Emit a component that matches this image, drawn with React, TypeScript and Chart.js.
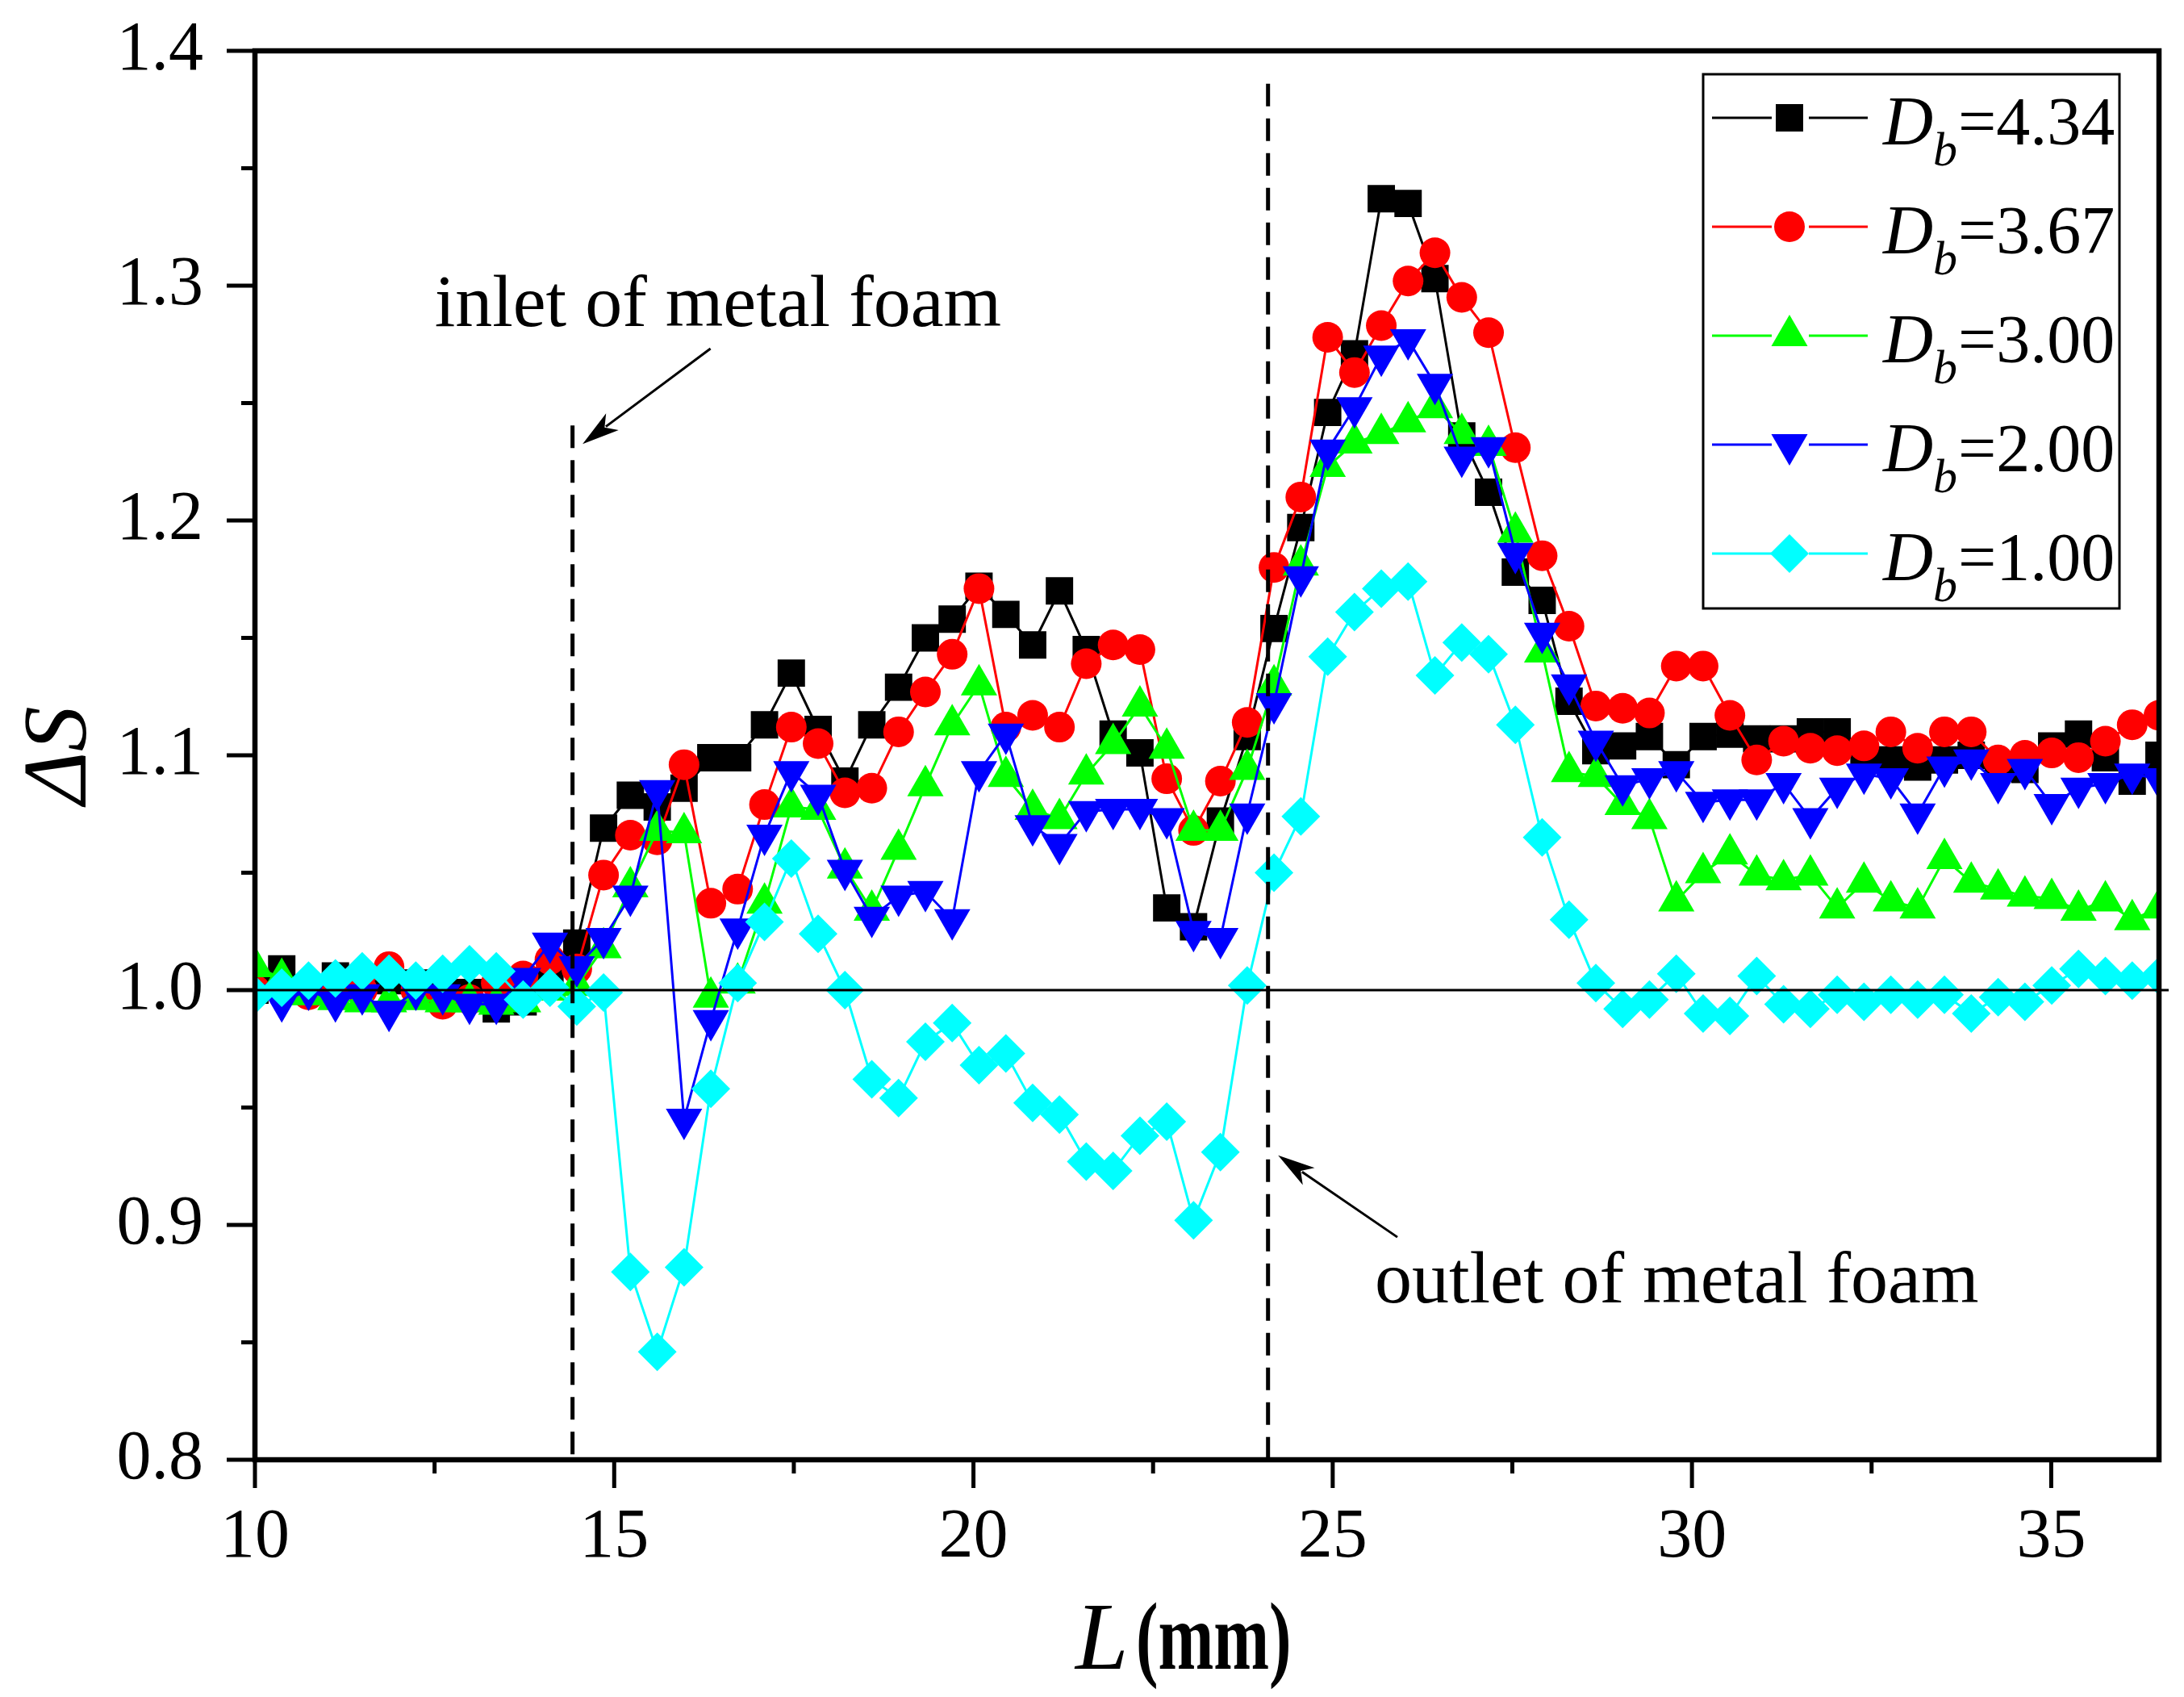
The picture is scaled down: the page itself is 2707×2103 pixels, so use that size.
import React, { useEffect, useRef } from 'react';
import { Chart, registerables } from 'chart.js';

Chart.register(...registerables);

// L (mm) sample positions
const lengths = [
  10.0, 10.373, 10.746, 11.12, 11.493, 11.866, 12.239, 12.613, 12.986, 13.359,
  13.732, 14.106, 14.479, 14.852, 15.225, 15.599, 15.972, 16.345, 16.718, 17.092,
  17.465, 17.838, 18.211, 18.585, 18.958, 19.331, 19.704, 20.077, 20.451, 20.824,
  21.197, 21.57, 21.944, 22.317, 22.69, 23.063, 23.437, 23.81, 24.183, 24.556,
  24.93, 25.303, 25.676, 26.049, 26.423, 26.796, 27.169, 27.542, 27.915, 28.289,
  28.662, 29.035, 29.408, 29.782, 30.155, 30.528, 30.901, 31.275, 31.648, 32.021,
  32.394, 32.768, 33.141, 33.514, 33.887, 34.261, 34.634, 35.007, 35.38, 35.754,
  36.127, 36.5,
];

// ΔS for each D_b
const db434 = [
  1.0, 1.009, 1.0, 1.006, 1.003, 1.004, 1.003, 1.001, 0.999, 0.992,
  0.995, 1.005, 1.02, 1.069, 1.083, 1.078, 1.086, 1.099, 1.099, 1.113,
  1.135, 1.111, 1.089, 1.113, 1.129, 1.15, 1.158, 1.172, 1.16, 1.147,
  1.17, 1.145, 1.109, 1.101, 1.035, 1.027, 1.072, 1.108, 1.154, 1.197,
  1.246, 1.271, 1.337, 1.335, 1.303, 1.236, 1.212, 1.178, 1.166, 1.123,
  1.102, 1.104, 1.108, 1.096, 1.108, 1.109, 1.107, 1.107, 1.11, 1.11,
  1.101, 1.098, 1.095, 1.098, 1.1, 1.096, 1.094, 1.104, 1.109, 1.099,
  1.089, 1.1,
];
const db367 = [
  1.0, 1.0, 0.998, 0.999, 1.0, 1.01, 1.0, 0.994, 0.996, 1.003,
  1.006, 1.013, 1.009, 1.049, 1.066, 1.064, 1.096, 1.037, 1.043, 1.079,
  1.112, 1.105, 1.084, 1.086, 1.11, 1.127, 1.143, 1.171, 1.112, 1.117,
  1.112, 1.139, 1.147, 1.145, 1.09, 1.068, 1.089, 1.114, 1.18, 1.21,
  1.278, 1.263, 1.283, 1.302, 1.314, 1.295, 1.28, 1.231, 1.185, 1.155,
  1.121, 1.12, 1.118, 1.138, 1.138, 1.117, 1.098, 1.106, 1.103, 1.102,
  1.104, 1.11, 1.103, 1.11, 1.11, 1.098, 1.1, 1.101, 1.099, 1.106,
  1.113, 1.117,
];
const db300 = [
  1.01, 1.005, 0.998, 0.996, 0.995, 0.995, 0.996, 0.995, 0.995, 0.994,
  0.995, 1.0, 1.002, 1.018, 1.044, 1.068, 1.067, 0.997, 1.003, 1.037,
  1.078, 1.077, 1.052, 1.034, 1.06, 1.087, 1.113, 1.13, 1.091, 1.077,
  1.073, 1.092, 1.105, 1.121, 1.103, 1.068, 1.068, 1.094, 1.13, 1.181,
  1.223, 1.233, 1.237, 1.242, 1.248, 1.237, 1.232, 1.195, 1.144, 1.093,
  1.091, 1.079, 1.073, 1.038, 1.05, 1.058, 1.049, 1.047, 1.049, 1.035,
  1.046, 1.038, 1.035, 1.056, 1.046, 1.043, 1.04, 1.039, 1.034, 1.038,
  1.03, 1.035,
];
const db200 = [
  0.998, 0.995, 1.0, 0.995, 0.998, 0.991, 1.0, 0.998, 0.994, 0.994,
  1.005, 1.02, 1.01, 1.022, 1.04, 1.085, 0.945, 0.987, 1.026, 1.066,
  1.093, 1.083, 1.051, 1.031, 1.04, 1.042, 1.03, 1.093, 1.109, 1.07,
  1.062, 1.076, 1.077, 1.077, 1.073, 1.025, 1.022, 1.075, 1.122, 1.176,
  1.23, 1.248, 1.27, 1.277, 1.258, 1.227, 1.231, 1.186, 1.152, 1.13,
  1.106, 1.087, 1.09, 1.093, 1.08, 1.081, 1.081, 1.088, 1.073, 1.086,
  1.092, 1.09, 1.075, 1.095, 1.098, 1.088, 1.094, 1.079, 1.086, 1.088,
  1.092, 1.09,
];
const db100 = [
  0.998, 1.001, 1.004, 1.005, 1.008, 1.007, 1.004, 1.007, 1.011, 1.008,
  0.996, 1.001, 0.993, 0.999, 0.88, 0.846, 0.882, 0.958, 1.003, 1.029,
  1.056, 1.024, 1.0, 0.962, 0.954, 0.978, 0.986, 0.968, 0.973, 0.952,
  0.947, 0.927, 0.923, 0.938, 0.944, 0.902, 0.931, 1.002, 1.05, 1.074,
  1.142, 1.161, 1.171, 1.174, 1.134, 1.148, 1.143, 1.113, 1.065, 1.03,
  1.003, 0.992, 0.996, 1.007, 0.99, 0.989, 1.006, 0.994, 0.992, 0.998,
  0.995, 0.998, 0.996, 0.998, 0.99, 0.997, 0.995, 1.002, 1.009, 1.006,
  1.004, 1.006,
];

const seriesValues = ['4.34', '3.67', '3.00', '2.00', '1.00'];

const xMinor = [12.5, 17.5, 22.5, 27.5, 32.5];
const yMinor = [0.85, 0.95, 1.05, 1.15, 1.25, 1.35];

// dashed marker lines: [L, top of line]
const inletLine = [14.42, 1.2405];
const outletLine = [24.1, 1.386];

const SERIF = '"Liberation Serif", "Times New Roman", serif';

const looks = [
  { color: '#000000', shape: 'rect', r: 24, rot: 0 },
  { color: '#ff0000', shape: 'circle', r: 19, rot: 0 },
  { color: '#00ff00', shape: 'triangle', r: 26, rot: 0 },
  { color: '#0000ff', shape: 'triangle', r: 26, rot: 180 },
  { color: '#00ffff', shape: 'rectRot', r: 24, rot: 0 },
];

function marker(ctx: CanvasRenderingContext2D, shape: string, x: number, y: number, r: number, rot: number) {
  ctx.beginPath();
  if (shape === 'circle') {
    ctx.arc(x, y, r, 0, Math.PI * 2);
  } else if (shape === 'rect') {
    const s = r * Math.SQRT1_2;
    ctx.rect(x - s, y - s, 2 * s, 2 * s);
  } else if (shape === 'triangle') {
    let a = (rot * Math.PI) / 180;
    for (let i = 0; i < 3; i++) {
      const px = x + Math.sin(a) * r;
      const py = y - Math.cos(a) * r;
      if (i === 0) ctx.moveTo(px, py);
      else ctx.lineTo(px, py);
      a += (2 * Math.PI) / 3;
    }
    ctx.closePath();
  } else {
    ctx.moveTo(x - r, y);
    ctx.lineTo(x, y - r);
    ctx.lineTo(x + r, y);
    ctx.lineTo(x, y + r);
    ctx.closePath();
  }
  ctx.fill();
}

function arrow(ctx: CanvasRenderingContext2D, x1: number, y1: number, x2: number, y2: number) {
  const ang = Math.atan2(y2 - y1, x2 - x1);
  const len = 46;
  const hw = 13;
  const bx = x2 - Math.cos(ang) * len;
  const by = y2 - Math.sin(ang) * len;
  ctx.lineWidth = 3;
  ctx.beginPath();
  ctx.moveTo(x1, y1);
  ctx.lineTo(bx + Math.cos(ang) * 10, by + Math.sin(ang) * 10);
  ctx.stroke();
  ctx.beginPath();
  ctx.moveTo(x2, y2);
  ctx.lineTo(bx - Math.sin(ang) * hw, by + Math.cos(ang) * hw);
  ctx.lineTo(bx + Math.cos(ang) * 12, by + Math.sin(ang) * 12);
  ctx.lineTo(bx + Math.sin(ang) * hw, by - Math.cos(ang) * hw);
  ctx.closePath();
  ctx.fill();
}

const decorations = {
  id: 'decorations',
  afterDraw(chart: any) {
    const { ctx, chartArea: a, scales } = chart;
    const xs = scales.x;
    const ys = scales.y;
    const px = (v: number) => xs.getPixelForValue(v);
    const py = (v: number) => ys.getPixelForValue(v);
    ctx.save();
    ctx.strokeStyle = '#000';
    ctx.fillStyle = '#000';

    // reference line at 1.0
    ctx.lineWidth = 3;
    ctx.beginPath();
    ctx.moveTo(a.left, py(1.0));
    ctx.lineTo(a.right + 12, py(1.0));
    ctx.stroke();

    // inlet / outlet dashed lines
    ctx.lineWidth = 5;
    ctx.setLineDash([28, 15]);
    for (const [l, top] of [inletLine, outletLine]) {
      ctx.beginPath();
      ctx.moveTo(px(l), py(top));
      ctx.lineTo(px(l), a.bottom);
      ctx.stroke();
    }
    ctx.setLineDash([]);

    // frame
    ctx.lineWidth = 6.5;
    ctx.strokeRect(a.left, a.top, a.right - a.left, a.bottom - a.top);

    // ticks
    ctx.lineWidth = 5;
    ctx.beginPath();
    for (const t of xs.ticks) {
      const x = px(t.value);
      ctx.moveTo(x, a.bottom);
      ctx.lineTo(x, a.bottom + 35);
    }
    for (const v of xMinor) {
      ctx.moveTo(px(v), a.bottom);
      ctx.lineTo(px(v), a.bottom + 17);
    }
    for (const t of ys.ticks) {
      const y = py(t.value);
      ctx.moveTo(a.left, y);
      ctx.lineTo(a.left - 35, y);
    }
    for (const v of yMinor) {
      ctx.moveTo(a.left, py(v));
      ctx.lineTo(a.left - 17, py(v));
    }
    ctx.stroke();

    // annotations
    ctx.font = `92px ${SERIF}`;
    ctx.textAlign = 'left';
    ctx.textBaseline = 'alphabetic';
    ctx.fillText('inlet of metal foam', px(12.5), py(1.2828));
    ctx.fillText('outlet of metal foam', px(25.585), py(0.867));
    arrow(ctx, px(16.34), py(1.2732), px(14.56), py(1.2326));
    arrow(ctx, px(25.9), py(0.8948), px(24.24), py(0.9296));

    // axis titles
    ctx.save();
    ctx.translate(106, 936);
    ctx.rotate(-Math.PI / 2);
    ctx.textAlign = 'center';
    ctx.font = `italic 112px ${SERIF}`;
    ctx.fillText('ΔS', 0, 0);
    ctx.restore();

    ctx.font = `italic 118px ${SERIF}`;
    ctx.fillText('L', 1333, 2068);
    ctx.save();
    ctx.translate(1408, 2068);
    ctx.scale(0.7, 1);
    ctx.font = `bold 118px ${SERIF}`;
    ctx.fillText('(mm)', 0, 0);
    ctx.restore();

    // legend
    const bx = 2111, by = 92, bw = 516, bh = 662;
    ctx.fillStyle = '#fff';
    ctx.fillRect(bx, by, bw, bh);
    ctx.strokeStyle = '#000';
    ctx.lineWidth = 3;
    ctx.strokeRect(bx, by, bw, bh);
    seriesValues.forEach((val, i) => {
      const lk = looks[i];
      const cy = 146 + i * 135;
      ctx.strokeStyle = lk.color;
      ctx.fillStyle = lk.color;
      ctx.lineWidth = 3;
      ctx.beginPath();
      ctx.moveTo(2122, cy);
      ctx.lineTo(2196, cy);
      ctx.moveTo(2242, cy);
      ctx.lineTo(2315, cy);
      ctx.stroke();
      marker(ctx, lk.shape, 2218, cy, lk.r, lk.rot);
      ctx.fillStyle = '#000';
      ctx.font = `italic 86px ${SERIF}`;
      ctx.fillText('D', 2334, cy + 33);
      ctx.font = `italic 60px ${SERIF}`;
      ctx.fillText('b', 2396, cy + 59);
      ctx.font = `84px ${SERIF}`;
      ctx.fillText('=' + val, 2427, cy + 33);
    });
    ctx.restore();
  },
};

const App: React.FC = () => {
  const canvasRef = useRef<HTMLCanvasElement | null>(null);

  useEffect(() => {
    document.body.style.margin = '0';
    if (!canvasRef.current) return;
    const all = [db434, db367, db300, db200, db100];
    const chart = new Chart(canvasRef.current, {
      type: 'line',
      data: {
        datasets: all.map((vals, i) => ({
          label: 'Db=' + seriesValues[i],
          data: lengths.map((l, j) => ({ x: l, y: vals[j] })),
          borderColor: looks[i].color,
          backgroundColor: looks[i].color,
          borderWidth: 3,
          tension: 0,
          pointStyle: looks[i].shape as any,
          pointRotation: looks[i].rot,
          pointRadius: looks[i].r,
          pointBorderWidth: 0,
          pointBackgroundColor: looks[i].color,
          pointBorderColor: looks[i].color,
          clip: 0,
          order: 5 - i,
        })),
      },
      options: {
        animation: false,
        responsive: false,
        devicePixelRatio: 1,
        layout: { padding: { left: 0, right: 31, top: 63, bottom: 0 } },
        plugins: { legend: { display: false }, tooltip: { enabled: false } },
        scales: {
          x: {
            type: 'linear',
            min: 10,
            max: 36.5,
            grid: { display: false, drawTicks: false },
            border: { display: false },
            ticks: {
              stepSize: 5,
              includeBounds: false,
              autoSkip: false,
              maxRotation: 0,
              padding: 46,
              color: '#000',
              font: { family: SERIF, size: 86 },
              callback: (v: any) => String(v),
            },
            afterFit: (s: any) => {
              s.height = 294;
              s.paddingLeft = 0;
              s.paddingRight = 0;
            },
          },
          y: {
            type: 'linear',
            min: 0.8,
            max: 1.4,
            grid: { display: false, drawTicks: false },
            border: { display: false },
            ticks: {
              stepSize: 0.1,
              padding: 64,
              color: '#000',
              font: { family: SERIF, size: 86 },
              callback: (v: any) => Number(v).toFixed(1),
            },
            afterFit: (s: any) => {
              s.width = 316;
              s.paddingTop = 0;
              s.paddingBottom = 0;
            },
          },
        },
      },
      plugins: [decorations],
    });
    return () => chart.destroy();
  }, []);

  return (
    <div style={{ width: 2707, height: 2103, background: '#fff' }}>
      <canvas ref={canvasRef} width={2707} height={2103} style={{ display: 'block', width: 2707, height: 2103 }} />
    </div>
  );
};

export default App;
